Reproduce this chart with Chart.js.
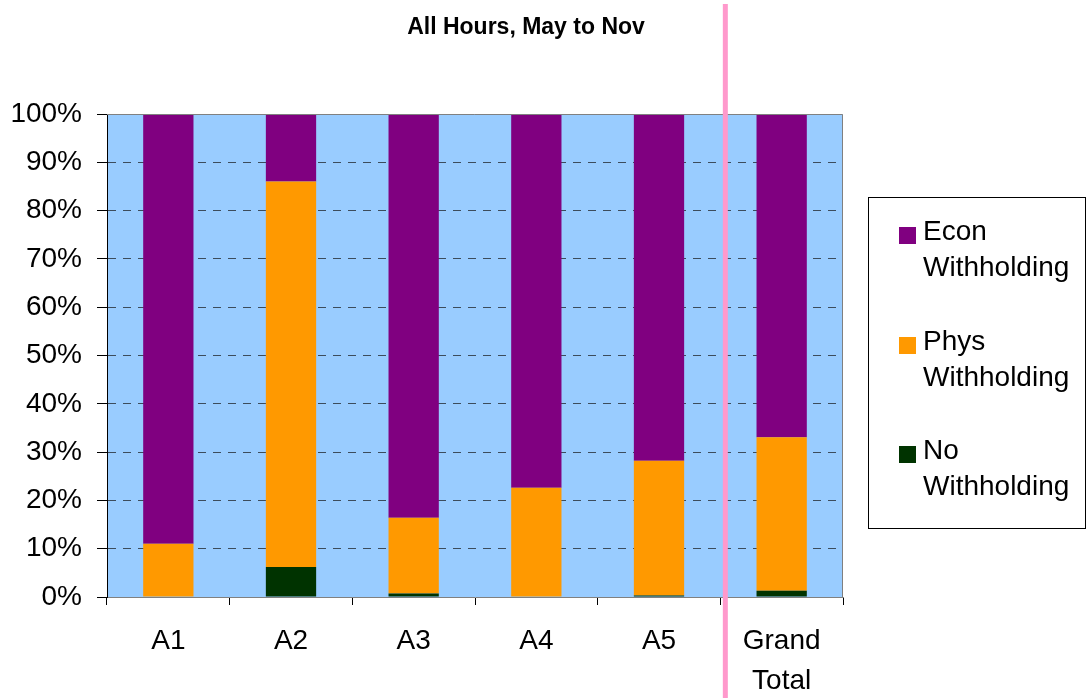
<!DOCTYPE html>
<html lang="en">
<head>
    <meta charset="UTF-8">
    <title>All Hours, May to Nov</title>
    <script src="https://cdn.jsdelivr.net/npm/chart.js"></script>
    <style>
        html, body { margin: 0; padding: 0; background: #fff; }
        #wrap { width: 1086px; height: 698px; }
    </style>
</head>
<body>
    <div id="wrap"><canvas id="myChart" width="1086" height="698"></canvas></div>

    <script>
        // values, percent of hours
        const categories = ['A1', 'A2', 'A3', 'A4', 'A5', ['Grand', 'Total']];
        const noWithholding = [0, 6.2, 0.7, 0, 0.3, 1.3];
        const physWithholding = [11.0, 79.8, 15.7, 22.6, 27.9, 31.8];
        const econWithholding = [89.0, 14.0, 83.6, 77.4, 71.8, 66.9];
        const yTicks = [0, 10, 20, 30, 40, 50, 60, 70, 80, 90, 100];

        const FONT = "'Liberation Sans', Arial, sans-serif";

        // plot background, frame, title, pink divider and the boxed legend
        const decor = {
            id: 'decor',
            beforeDraw(chart) {
                const c = chart.ctx, a = chart.chartArea;
                c.save();
                c.fillStyle = '#fff';
                c.fillRect(0, 0, chart.width, chart.height);
                c.fillStyle = '#99CCFF';
                c.fillRect(a.left, a.top, a.right - a.left, a.bottom - a.top);
                c.restore();
            },
            afterDraw(chart) {
                const c = chart.ctx, a = chart.chartArea;
                c.save();
                // top and right frame
                c.strokeStyle = '#808080';
                c.lineWidth = 1;
                c.beginPath();
                c.moveTo(a.left, a.top + 0.5);
                c.lineTo(a.right - 0.5, a.top + 0.5);
                c.lineTo(a.right - 0.5, a.bottom);
                c.stroke();

                // title
                c.fillStyle = '#000';
                c.font = 'bold 23px ' + FONT;
                c.textAlign = 'center';
                c.textBaseline = 'middle';
                c.fillText('All Hours, May to Nov', 526, 28);

                // pink divider next to Grand Total
                const xs = chart.scales.x;
                const divX = (xs.getPixelForValue(4) + xs.getPixelForValue(5)) / 2 + 5;
                c.strokeStyle = '#FF99CC';
                c.lineWidth = 5;
                c.beginPath();
                c.moveTo(divX, 4);
                c.lineTo(divX, chart.height);
                c.stroke();

                // legend box
                c.strokeStyle = '#000';
                c.lineWidth = 1;
                c.strokeRect(868.5, 197.5, 217, 331);
                c.font = '28px ' + FONT;
                c.textAlign = 'left';
                const rows = [232, 342, 451];
                const order = [2, 1, 0];
                order.forEach((di, i) => {
                    const ds = chart.data.datasets[di];
                    c.fillStyle = ds.backgroundColor;
                    c.fillRect(899, rows[i] - 5, 17, 17);
                    c.fillStyle = '#000';
                    ds.label.split(' ').forEach((w, j) => {
                        c.fillText(w, 923, rows[i] + j * 36);
                    });
                });
                c.restore();
            }
        };

        const ctx = document.getElementById('myChart').getContext('2d');
        const data = {
            labels: categories,
            datasets: [
                { label: 'No Withholding', data: noWithholding, backgroundColor: '#003300' },
                { label: 'Phys Withholding', data: physWithholding, backgroundColor: '#FF9900' },
                { label: 'Econ Withholding', data: econWithholding, backgroundColor: '#800080' }
            ]
        };
        data.datasets.forEach(ds => {
            ds.barPercentage = 0.41;
            ds.categoryPercentage = 1;
            ds.borderWidth = 0;
        });

        const config = {
            type: 'bar',
            data: data,
            options: {
                responsive: false,
                animation: false,
                layout: { padding: { left: 0, top: 114, right: 243, bottom: 0 } },
                plugins: {
                    legend: { display: false },
                    title: { display: false },
                    tooltip: { enabled: false }
                },
                scales: {
                    x: {
                        stacked: true,
                        afterFit(s) { s.height = 101; },
                        grid: {
                            offset: true,
                            drawOnChartArea: false,
                            tickLength: 8,
                            tickColor: '#000'
                        },
                        border: { color: '#808080', width: 1 },
                        ticks: {
                            color: '#000',
                            padding: 17,
                            maxRotation: 0,
                            font: { family: FONT, size: 28, lineHeight: 1.4 }
                        }
                    },
                    y: {
                        stacked: true,
                        min: 0,
                        max: 100,
                        afterFit(s) { s.width = 107; },
                        afterBuildTicks(s) { s.ticks = yTicks.map(v => ({ value: v })); },
                        grid: {
                            color: c => (c.tick && c.tick.value > 0 && c.tick.value < 100) ? '#3c4c5c' : 'rgba(0,0,0,0)',
                            tickColor: '#000',
                            tickLength: 10
                        },
                        border: { color: '#000', width: 1, dash: [8, 7] },
                        ticks: {
                            color: '#000',
                            padding: 15,
                            callback: v => v + '%',
                            font: { family: FONT, size: 28 }
                        }
                    }
                }
            },
            plugins: [decor]
        };

        const myChart = new Chart(ctx, config);
    </script>
</body>
</html>
